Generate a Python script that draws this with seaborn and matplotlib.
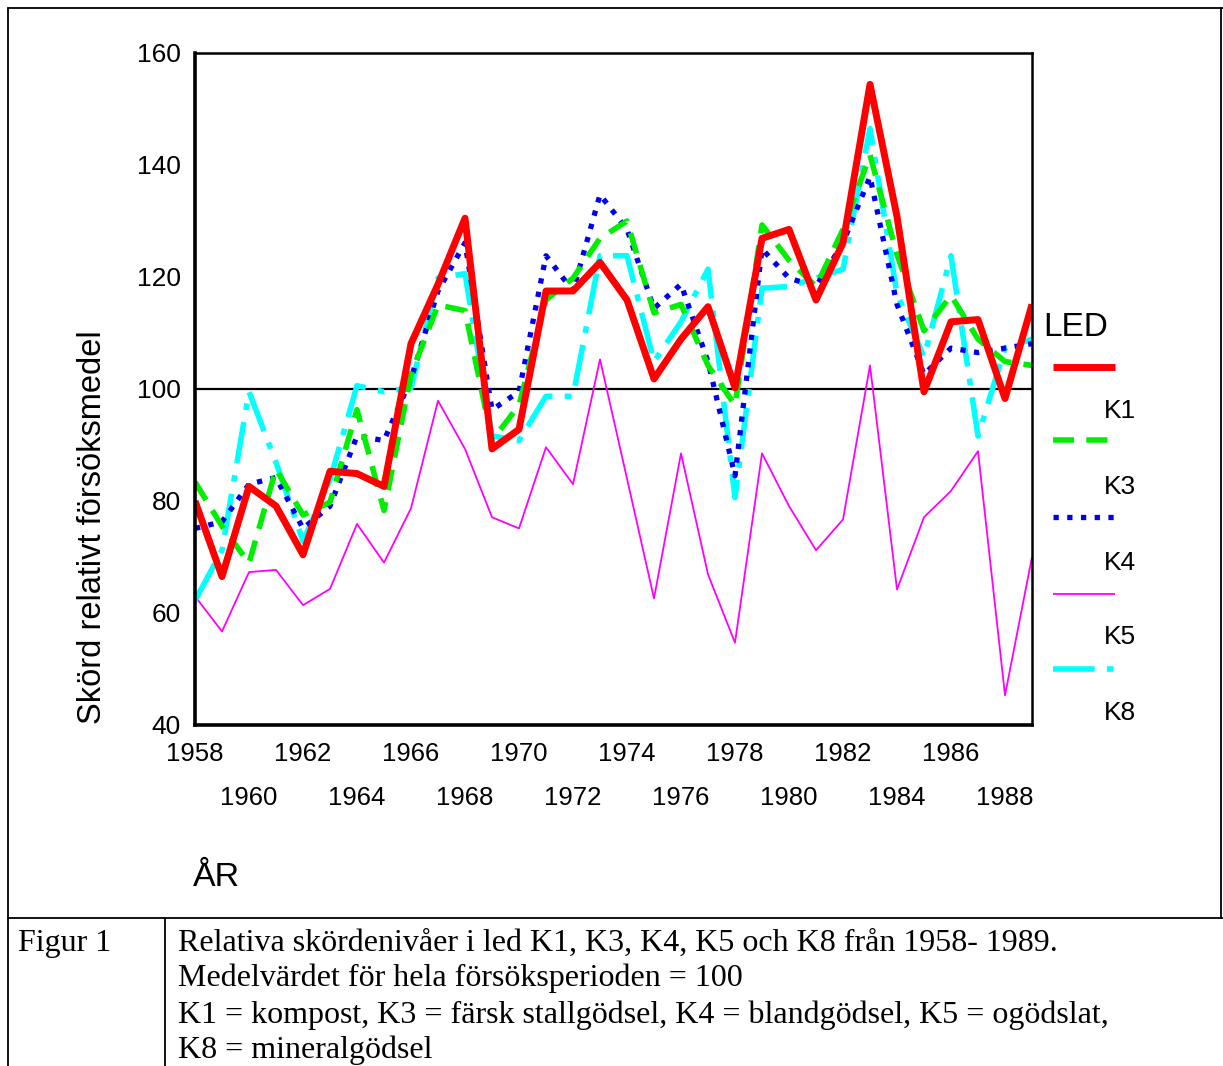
import numpy as np
import pandas as pd
import matplotlib.pyplot as plt
import seaborn as sns
from matplotlib.lines import Line2D

# Relative yields per year
years = list(range(1958, 1990))

k1 = [80, 66.5, 82.6, 79.1, 70.4, 85.3, 84.9, 82.6, 108.1, 118.7, 130.5,
      89.3, 92.8, 117.5, 117.5, 122.6, 115.9, 101.8, 108.9, 114.7, 100.2,
      126.9, 128.5, 115.9, 126.1, 154.4, 130.8, 99.5, 112, 112.4, 98.3, 115.1]
k3 = [83.4, 75.5, 68.9, 85.7, 77.5, 79.8, 96.3, 78.3, 102.6, 115, 114,
      90.8, 97.1, 115.9, 119.8, 126.9, 130, 113.6, 115.1, 104.2, 97.1,
      129.3, 123, 118.3, 128.5, 141.8, 124, 110.4, 116.7, 108.9, 104.9, 104.2]
k4 = [75.1, 76.3, 83, 84.2, 75.1, 79.1, 91.6, 90.8, 101.8, 117.5, 126.1,
      96.3, 99.5, 123.8, 117.5, 134.7, 128.5, 114.4, 118.7, 104.9, 84.5,
      125, 119.8, 118.3, 126.1, 137.9, 115.1, 102.6, 107.3, 106.5, 107.3, 108.1]
k5 = [63, 56.7, 67.3, 67.7, 61.4, 64.3, 75.9, 69, 78.7, 97.9, 89.3,
      77.1, 75.1, 89.6, 83, 105.3, 84, 62.6, 88.5, 66.9, 54.7,
      88.5, 79.1, 71.2, 76.7, 104.2, 64.2, 77.1, 81.8, 88.9, 45.3, 70]
k8 = [62.2, 71.2, 99.5, 86.9, 72.8, 83.8, 100.6, 99.5, 100.2, 119.8, 120.6,
      91.6, 90.8, 98.7, 98.7, 123.8, 123.8, 104.9, 112, 121.4, 80.6,
      118, 118.3, 119.8, 121.4, 146.5, 117, 105.7, 123.8, 91.6, 107.3, 108.9]

led_names = ["K1", "K3", "K4", "K5", "K8"]
ylim_values = (40, 160)
y_ticks = [40, 60, 80, 100, 120, 140, 160]

df = pd.DataFrame({"year": years, "K1": k1, "K3": k3, "K4": k4, "K5": k5, "K8": k8})
long_df = df.melt(id_vars="year", var_name="LED", value_name="value")

# line styles per treatment
styles = {
    "K1": dict(color="#ff0000", lw=5.0, dashes=None),
    "K3": dict(color="#00ee00", lw=4.0, dashes=(3.8, 2.2)),
    "K4": dict(color="#0000ee", lw=3.8, dashes=(1.0, 1.6)),
    "K5": dict(color="#ff00ff", lw=1.3, dashes=None),
    "K8": dict(color="#00ffff", lw=4.0, dashes=(7.5, 2.2, 1.2, 2.2)),
}
draw_order = ["K5", "K8", "K4", "K3", "K1"]

sns.set_style("white")
plt.rcParams["font.family"] = ["Liberation Sans", "DejaVu Sans"]
plt.rcParams["text.color"] = "black"
plt.rcParams["xtick.color"] = "black"
plt.rcParams["ytick.color"] = "black"

fig = plt.figure(figsize=(12.23, 10.66), dpi=100)
ax = fig.add_axes([195 / 1223, 1 - 725 / 1066, (1032 - 195) / 1223, (725 - 53) / 1066])

for name in draw_order:
    st = styles[name]
    sub = long_df[long_df["LED"] == name]
    sns.lineplot(data=sub, x="year", y="value", ax=ax, color=st["color"],
                 linewidth=st["lw"], legend=False, solid_capstyle="butt")
    if st["dashes"] is not None:
        ax.lines[-1].set_dashes(st["dashes"])

ax.axhline(100, color="black", lw=1.6, zorder=1)

ax.set_xlim(1958, 1989)
ax.set_ylim(*ylim_values)
ax.set_yticks(y_ticks)
ax.set_yticklabels([str(v) for v in y_ticks], fontsize=19)

ax.set_xticks(list(range(1958, 1990, 4)))
ax.set_xticklabels([str(v) for v in range(1958, 1990, 4)], fontsize=18.5)
ax.set_xticks(list(range(1960, 1990, 4)), minor=True)
ax.set_xticklabels([str(v) for v in range(1960, 1990, 4)], minor=True, fontsize=18.5)
ax.tick_params(axis="x", which="major", direction="out", length=4, width=2, pad=8)
ax.tick_params(axis="x", which="minor", direction="out", length=4, width=2, pad=40)
ax.tick_params(axis="y", direction="out", length=5, width=2, pad=5)
ax.set_xlabel("")
ax.set_ylabel("")

for side, w in [("left", 2.6), ("bottom", 2.6), ("top", 1.8), ("right", 1.8)]:
    ax.spines[side].set_visible(True)
    ax.spines[side].set_color("black")
    ax.spines[side].set_linewidth(w)

fig.text(93 / 1223, 1 - 527 / 1066, "Skörd relativt försöksmedel", rotation=90,
         ha="center", va="center", fontsize=23.5)
fig.text(193 / 1223, 1 - 878 / 1066, "ÅR", ha="left", va="center", fontsize=24.5)

# legend drawn by hand: sample line first, label below it
fig.text(1043 / 1223, 1 - 327 / 1066, "LED", ha="left", va="center", fontsize=24)
sample_y = [367, 440, 517, 594, 669]
label_y = [411, 487, 563, 637, 713]
for name, sy, ly in zip(led_names, sample_y, label_y):
    st = styles[name]
    yy = 1 - sy / 1066
    ln = Line2D([1053 / 1223, 1115 / 1223], [yy, yy], transform=fig.transFigure,
                color=st["color"], lw=st["lw"], solid_capstyle="butt")
    if st["dashes"] is not None:
        ln.set_dashes(st["dashes"])
    fig.add_artist(ln)
    fig.text(1104 / 1223, 1 - ly / 1066, name, ha="left", va="center", fontsize=19)

# outer frame and caption table
frame_kw = dict(transform=fig.transFigure, color="black", lw=1.3)
fig.add_artist(Line2D([8 / 1223, 8 / 1223], [0, 1 - 8 / 1066], **frame_kw))
fig.add_artist(Line2D([8 / 1223, 1], [1 - 8 / 1066, 1 - 8 / 1066], **frame_kw))
fig.add_artist(Line2D([1221 / 1223, 1221 / 1223], [1 - 918 / 1066, 1 - 8 / 1066], **frame_kw))
fig.add_artist(Line2D([8 / 1223, 1], [1 - 918 / 1066, 1 - 918 / 1066], **frame_kw))
fig.add_artist(Line2D([165 / 1223, 165 / 1223], [0, 1 - 918 / 1066], **frame_kw))

serif = ["Liberation Serif", "DejaVu Serif"]
fig.text(18 / 1223, 1 - 943 / 1066, "Figur 1", ha="left", va="center",
         fontsize=23, family=serif)
caption = [
    "Relativa skördenivåer i led K1, K3, K4, K5 och K8 från 1958- 1989.",
    "Medelvärdet för hela försöksperioden = 100",
    "K1 = kompost, K3 = färsk stallgödsel, K4 = blandgödsel, K5 = ogödslat,",
    "K8 = mineralgödsel",
]
for line, cy in zip(caption, [943, 978, 1015, 1050]):
    fig.text(178 / 1223, 1 - cy / 1066, line, ha="left", va="center",
             fontsize=23, family=serif)

fig.savefig("out.png", dpi=100)
